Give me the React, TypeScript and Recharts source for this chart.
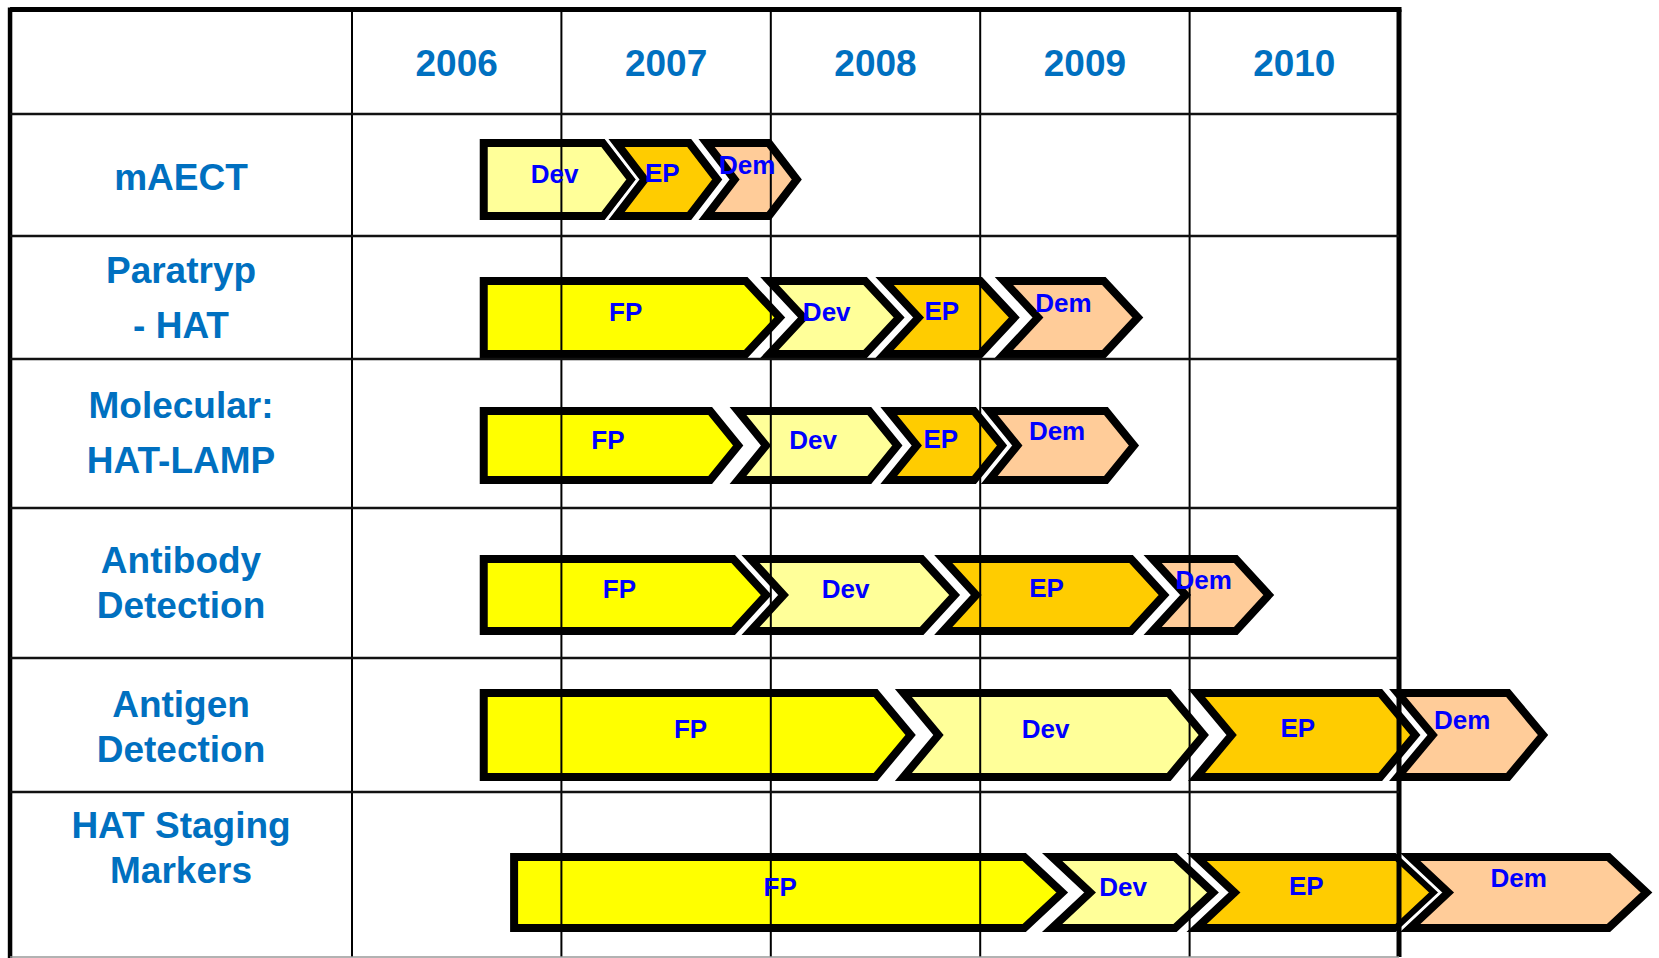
import { ComposedChart, XAxis, YAxis, ReferenceArea, ReferenceLine, Scatter } from 'recharts'

// ---- data ----
const years = [2006, 2007, 2008, 2009, 2010]
const projects = [
  'mAECT',
  'Paratryp\n- HAT',
  'Molecular:\nHAT-LAMP',
  'Antibody\nDetection',
  'Antigen\nDetection',
  'HAT Staging\nMarkers',
]
// [start, end] of each phase in years, one entry per project row
const fpPhase: ([number, number] | null)[] = [
  null,
  [2006.61, 2007.89],
  [2006.61, 2007.72],
  [2006.61, 2007.83],
  [2006.61, 2008.51],
  [2006.755, 2009.22],
]
const devPhase: ([number, number] | null)[] = [
  [2006.61, 2007.21],
  [2007.96, 2008.46],
  [2007.81, 2008.48],
  [2007.87, 2008.73],
  [2008.6, 2009.91],
  [2009.31, 2009.94],
]
const epPhase: ([number, number] | null)[] = [
  [2007.23, 2007.62],
  [2008.51, 2009.01],
  [2008.53, 2008.98],
  [2008.79, 2009.73],
  [2010.0, 2010.92],
  [2010.0, 2011.0],
]
const demPhase: ([number, number] | null)[] = [
  [2007.66, 2008.0],
  [2009.08, 2009.6],
  [2009.01, 2009.61],
  [2009.79, 2010.23],
  [2010.96, 2011.53],
  [2011.02, 2012.01],
]

const phases = [
  { name: 'FP', ranges: fpPhase, fill: '#FFFF00', lift: 6 },
  { name: 'Dev', ranges: devPhase, fill: '#FFFF99', lift: 6 },
  { name: 'EP', ranges: epPhase, fill: '#FFCC00', lift: 7 },
  { name: 'Dem', ranges: demPhase, fill: '#FFCC99', lift: 15 },
]

// ---- layout ----
const W = 1659
const H = 958
const X_MIN = 2004.319
const X_MAX = 2012.2416
const TABLE_LEFT = 2004.367
const TABLE_RIGHT = 2011
const TOP = 9.5
const BOTTOM = 957
const ROW_LINES = [114, 236, 359, 508, 658, 792]
const BANDS = [
  [139, 220],
  [277, 358],
  [407, 484],
  [555, 635],
  [689, 781],
  [853, 932],
]
const TIP = [28, 34, 28, 33, 35, 38]
const LABEL_Y = [177, 297.5, 432.5, 582.5, 726.5, 847.5]
const LABEL_GAP = [0, 55, 55, 45, 45, 45]
const HEAD_Y = 63

const FONT = '"Liberation Sans", Arial, sans-serif'
const HEAD_BLUE = '#0070C0'

function Chevron(props: any) {
  const { x, y, width, height, color, first, tip } = props
  const sw = 8
  const L = x + (first ? 4 : 7)
  const R = x + width - 2
  const T = y + 4
  const B = y + height - 4
  const M = (T + B) / 2
  const d = tip
  const pts = first
    ? [[L, T], [R, T], [R + d, M], [R, B], [L, B]]
    : [[L, T], [R, T], [R + d, M], [R, B], [L, B], [L + d, M]]
  const path = 'M' + pts.map((p) => p.join(',')).join('L') + 'Z'
  return (
    <g>
      <path d={path} fill="none" stroke="#fff" strokeWidth={sw + 6} strokeLinejoin="miter" />
      <path d={path} fill={color} stroke="#000" strokeWidth={sw} strokeLinejoin="miter" />
    </g>
  )
}

// label points for the chevrons, one per phase segment
const segLabels: any[] = []
projects.forEach((_, r) => {
  phases.forEach((ph) => {
    const rg = ph.ranges[r]
    if (!rg) return
    segLabels.push({
      x: (rg[0] + rg[1]) / 2 + 0.057,
      y: (BANDS[r][0] + BANDS[r][1]) / 2 - ph.lift,
      text: ph.name,
    })
  })
})
const headLabels = years.map((yr) => ({ x: yr + 0.5, y: HEAD_Y, text: String(yr) }))
const rowLabels = projects.map((p, i) => ({ x: (TABLE_LEFT + years[0]) / 2, y: LABEL_Y[i], text: p, gap: LABEL_GAP[i] }))

function SegText({ cx, cy, payload }: any) {
  return (
    <text x={cx} y={cy + 9} textAnchor="middle" fontFamily={FONT} fontWeight="bold" fontSize={26} fill="#0000FF">
      {payload.text}
    </text>
  )
}

function HeadText({ cx, cy, payload }: any) {
  const lines = String(payload.text).split('\n')
  const gap = payload.gap || 0
  const start = cy - (gap * (lines.length - 1)) / 2
  return (
    <g>
      {lines.map((ln: string, i: number) => (
        <text
          key={i}
          x={cx}
          y={start + i * gap + 13}
          textAnchor="middle"
          fontFamily={FONT}
          fontWeight="bold"
          fontSize={37}
          fill={HEAD_BLUE}
        >
          {ln}
        </text>
      ))}
    </g>
  )
}

export default function App() {
  const areas: any[] = []
  projects.forEach((_, r) => {
    let first = true
    phases.forEach((ph) => {
      const rg = ph.ranges[r]
      if (!rg) return
      const isFirst = first
      first = false
      areas.push(
        <ReferenceArea
          key={`${r}-${ph.name}`}
          x1={rg[0]}
          x2={rg[1]}
          y1={BANDS[r][0]}
          y2={BANDS[r][1]}
          ifOverflow="visible"
          shape={(p: any) => <Chevron {...p} color={ph.fill} first={isFirst} tip={TIP[r]} />}
        />
      )
    })
  })

  return (
    <div style={{ position: 'absolute', left: 0, top: 0, background: '#fff' }}>
      <ComposedChart width={W} height={H} margin={{ top: 0, right: 0, bottom: 0, left: 0 }}>
        <XAxis type="number" dataKey="x" domain={[X_MIN, X_MAX]} allowDataOverflow hide />
        <YAxis type="number" dataKey="y" domain={[0, H]} reversed allowDataOverflow hide />
        {areas}
        <Scatter data={segLabels} shape={<SegText />} isAnimationActive={false} />
        {[...years, TABLE_RIGHT].map((yr) => (
          <ReferenceLine
            key={`v${yr}`}
            segment={[{ x: yr, y: TOP }, { x: yr, y: BOTTOM }]}
            stroke="#000"
            strokeWidth={yr === TABLE_RIGHT ? 5 : 2}
            ifOverflow="visible"
          />
        ))}
        <ReferenceLine
          segment={[{ x: TABLE_LEFT, y: TOP - 2 }, { x: TABLE_LEFT, y: H }]}
          stroke="#000"
          strokeWidth={4.5}
          ifOverflow="visible"
        />
        <ReferenceLine
          segment={[{ x: TABLE_LEFT, y: TOP }, { x: TABLE_RIGHT + 0.012, y: TOP }]}
          stroke="#000"
          strokeWidth={5}
          ifOverflow="visible"
        />
        {ROW_LINES.map((ry) => (
          <ReferenceLine
            key={`h${ry}`}
            segment={[{ x: TABLE_LEFT, y: ry }, { x: TABLE_RIGHT, y: ry }]}
            stroke="#111"
            strokeWidth={2.5}
            ifOverflow="visible"
          />
        ))}
        <ReferenceLine
          segment={[{ x: TABLE_LEFT, y: BOTTOM }, { x: TABLE_RIGHT, y: BOTTOM }]}
          stroke="#999"
          strokeWidth={1.5}
          ifOverflow="visible"
        />
        <Scatter data={headLabels} shape={<HeadText />} isAnimationActive={false} />
        <Scatter data={rowLabels} shape={<HeadText />} isAnimationActive={false} />
      </ComposedChart>
    </div>
  )
}
